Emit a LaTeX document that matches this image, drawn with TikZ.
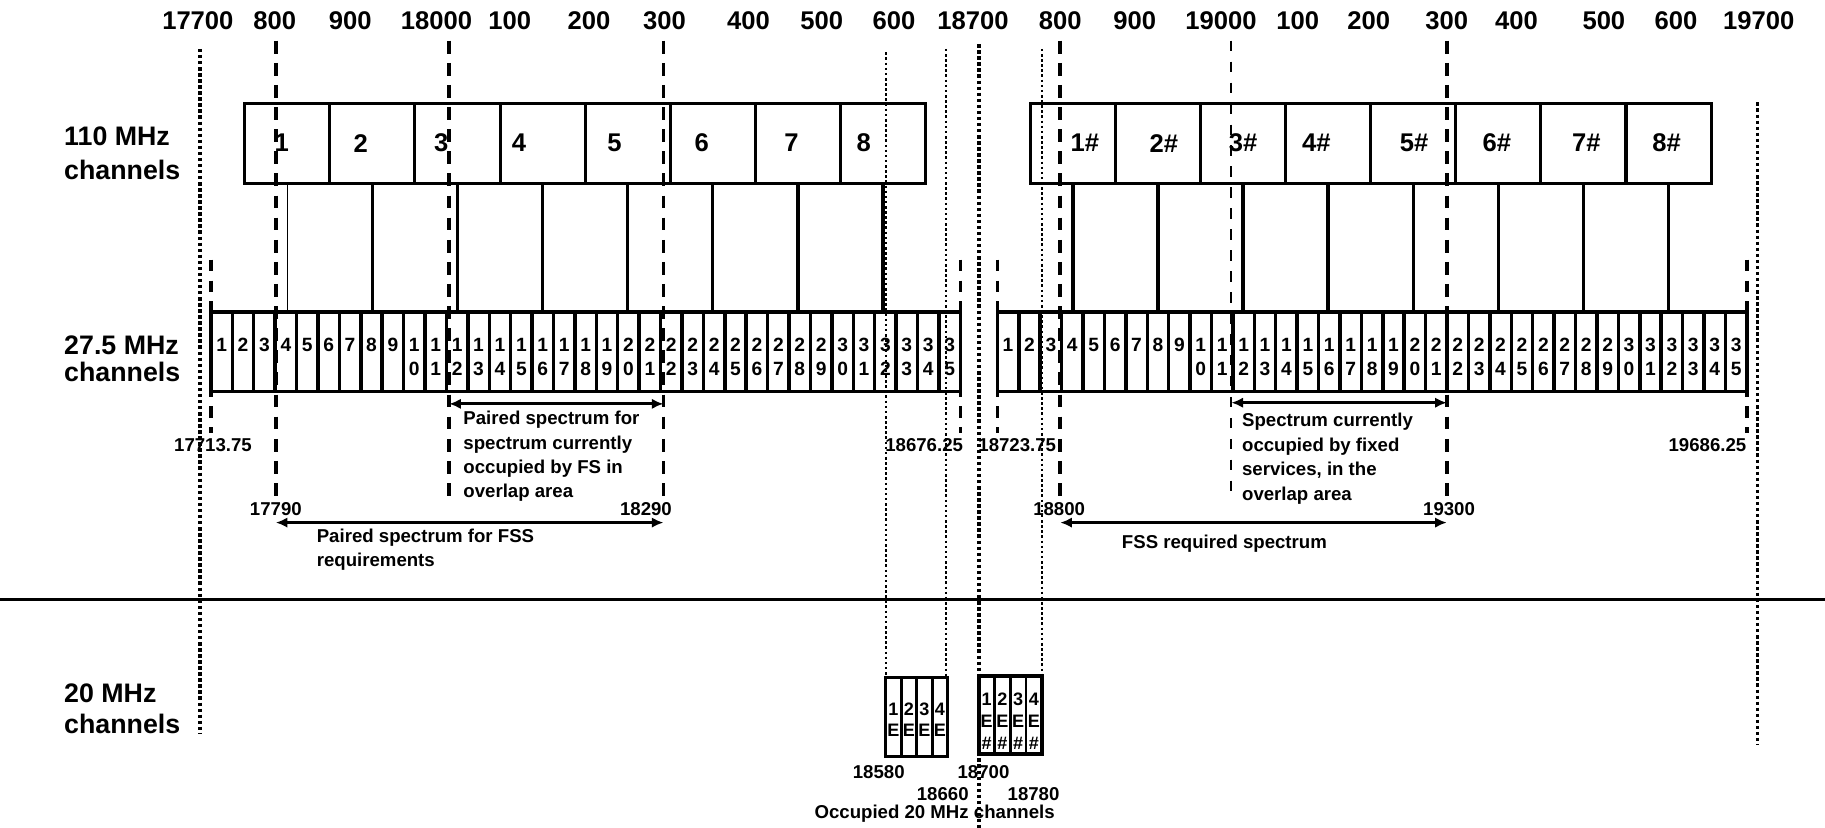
\documentclass[tikz,border=0pt]{standalone}
\usepackage{fontspec}
\setmainfont{Liberation Sans}
\usetikzlibrary{arrows.meta}
\begin{document}
\begin{tikzpicture}[x=1pt,y=-1pt,
  toplab/.style={font=\fontsize{22}{24}\selectfont\bfseries, inner sep=0pt},
  rowlab/.style={align=left, anchor=west, inner sep=0pt},
  boxlab/.style={font=\fontsize{22}{24}\selectfont\bfseries, inner sep=0pt},
  chlab/.style={font=\fontsize{16.5}{18}\selectfont\bfseries, anchor=base, inner sep=0pt},
  smlab/.style={font=\fontsize{15.5}{16}\selectfont\bfseries, anchor=base, inner sep=0pt},
  note/.style={font=\fontsize{16}{21}\selectfont\bfseries, align=left, inner sep=0pt, anchor=north west},
  freq/.style={font=\fontsize{16}{18}\selectfont\bfseries, inner sep=0pt},
  chbox/.style={draw, line width=2.6pt, minimum width=73.1pt, minimum height=68pt, inner sep=0pt, anchor=north west},
  cell/.style={line width=3pt},
  conn/.style={line width=3pt},
  thickdot/.style={line width=3pt, dash pattern=on 3pt off 2.2pt},
  thindot/.style={line width=2pt, dash pattern=on 2.2pt off 2.2pt},
  thickdash/.style={line width=3.2pt, dash pattern=on 11pt off 8pt},
  thindash/.style={line width=1.8pt, dash pattern=on 9pt off 9pt},
  dbl/.style={line width=2.6pt, {Latex[length=10pt,width=9pt]}-{Latex[length=10pt,width=9pt]}},
]
\useasboundingbox (0,0) rectangle (1568,711.4);

% top frequency labels
\foreach \x/\t [count=\k] in {170/17700,236/800,301/900,375/18000,438/100,506/200,571/300,643/400,706/500,768/600,836/18700,911/800,975/900,1049/19000,1115/100,1176/200,1243/300,1303/400,1378/500,1440/600,1511/19700}
  \node[toplab] (t\k) at (\x,18) {\t};

% row labels
\node[rowlab, font=\fontsize{23}{29}\selectfont\bfseries] (r110) at (55,132) {110 MHz\\channels};
\node[rowlab, font=\fontsize{23}{23}\selectfont\bfseries] (r275) at (55,308) {27.5 MHz\\channels};
\node[rowlab, font=\fontsize{23}{27}\selectfont\bfseries] (r20) at (55,609) {20 MHz\\channels};

% 110 MHz boxes
\foreach \i in {1,...,8} {
  \pgfmathsetmacro{\xx}{209+(\i-1)*73.1}
  \node[chbox] (Lb\i) at (\xx,88) {};
  \pgfmathsetmacro{\xy}{884+(\i-1)*73.1}
  \node[chbox] (Rb\i) at (\xy,88) {};
}
\foreach \x/\t [count=\k] in {242/1,310/2,379/3,446/4,528/5,603/6,680/7,742/8}
  \node[boxlab] (Ll\k) at (\x,123) {\t};
\foreach \x/\t [count=\k] in {932/1\#,1000/2\#,1068/3\#,1131/4\#,1215/5\#,1286/6\#,1363/7\#,1432/8\#}
  \node[boxlab] (Rl\k) at (\x,123) {\t};

% connectors from 110 MHz boxes to the 27.5 MHz bar
\coordinate (bartop) at (0,268);
\draw[line width=1.2pt] (Lb1.south) -- (Lb1.south |- bartop);
\foreach \i in {2,...,8} \draw[conn] (Lb\i.south) -- (Lb\i.south |- bartop);
\foreach \i in {1,...,8} \draw[conn] (Rb\i.south) -- (Rb\i.south |- bartop);

% 27.5 MHz channels
\foreach \s/\p in {181.2/L,856.9/R} {
  \foreach \i in {1,...,35} {
    \pgfmathsetmacro{\xl}{\s+(\i-1)*18.3975}
    \pgfmathsetmacro{\xr}{\xl+18.3975}
    \pgfmathsetmacro{\xc}{\xl+9.2}
    \draw[cell] (\xl,268) rectangle (\xr,336.5);
    \ifnum\i<10
      \node[chlab] (c\p a\i) at (\xc,302) {\i};
    \else
      \pgfmathtruncatemacro{\da}{int(\i/10)}
      \pgfmathtruncatemacro{\db}{mod(\i,10)}
      \node[chlab] (c\p a\i) at (\xc,302) {\da};
      \node[chlab] (c\p b\i) at (\xc,323) {\db};
    \fi
  }
}
% dashed bar ends
\foreach \x in {181.2,825.1,856.9,1500.8}
  \draw[line width=3pt, dash pattern=on 10pt off 8pt] (\x,223) -- (\x,372);

% 20 MHz channels
\foreach \i in {1,...,4} {
  \pgfmathsetmacro{\xl}{761+(\i-1)*13.3}
  \pgfmathsetmacro{\xr}{\xl+13.3}
  \pgfmathsetmacro{\xc}{\xl+6.65}
  \draw[line width=2.4pt] (\xl,582) rectangle (\xr,650);
  \node[smlab] (ga\i) at (\xc,615) {\i};
  \node[smlab] (ge\i) at (\xc,633) {E};
  \pgfmathsetmacro{\yl}{841+(\i-1)*13.5}
  \pgfmathsetmacro{\yr}{\yl+13.5}
  \pgfmathsetmacro{\yc}{\yl+6.75}
  \draw[line width=2.4pt] (\yl,581) rectangle (\yr,648);
  \node[smlab] (ha\i) at (\yc,606) {\i};
  \node[smlab] (he\i) at (\yc,625) {E};
  \node[smlab] (hh\i) at (\yc,644) {\#};
}
\draw[line width=3.4pt] (841,581) rectangle (895,648);

% horizontal separator
\draw[line width=2.8pt] (0,515) -- (1568,515);

% dotted lines
\draw[thickdot] (172,42) -- (172,630);
\draw[thickdot] (841,38) -- (841,711.4);
\draw[thickdot] (1510,88) -- (1510,640);
\draw[thindot] (761,45) -- (761,582);
\draw[thindot] (813,42) -- (813,582);
\draw[thindot] (895,42) -- (895,581);

% dashed lines
\foreach \x in {237,386,570,1243}
  \draw[thickdash] (\x,35) -- (\x,427);
\draw[thickdash] (911,35) -- (911,430);
\draw[thindash] (1058,35) -- (1058,427);

% arrows
\coordinate (a1l) at (386,347); \coordinate (a1r) at (570,347);
\coordinate (a2l) at (237,449); \coordinate (a2r) at (570,449);
\coordinate (a3l) at (1058,346); \coordinate (a3r) at (1243,346);
\coordinate (a4l) at (911,449); \coordinate (a4r) at (1243,449);
\draw[dbl] (a1l) -- (a1r);
\draw[dbl] (a2l) -- (a2r);
\draw[dbl] (a3l) -- (a3r);
\draw[dbl] (a4l) -- (a4r);

% notes
\node[note] (n1) at (398,353) {Paired spectrum for\\spectrum currently\\occupied by FS in\\overlap area};
\node[note] (n2) at (272,454) {Paired spectrum for FSS\\requirements};
\node[note] (n3) at (1067,355) {Spectrum currently\\occupied by fixed\\services, in the\\overlap area};
\node[freq] (n4) at (1052,467) {FSS required spectrum};

% frequency labels
\node[freq] (f1) at (183,382) {17713.75};
\node[freq] (f2) at (794,382) {18676.25};
\node[freq] (f3) at (874,382) {18723.75};
\node[freq] (f4) at (1467,382) {19686.25};
\node[freq] (f5) at (237,437) {17790};
\node[freq] (f6) at (555,437) {18290};
\node[freq] (f7) at (910,437) {18800};
\node[freq] (f8) at (1245,437) {19300};
\node[freq] (f9) at (755,663) {18580};
\node[freq] (f10) at (845,663) {18700};
\node[freq] (f11) at (810,682) {18660};
\node[freq] (f12) at (888,682) {18780};
\node[freq] (f13) at (803,699) {Occupied 20 MHz channels};
\end{tikzpicture}
\end{document}
